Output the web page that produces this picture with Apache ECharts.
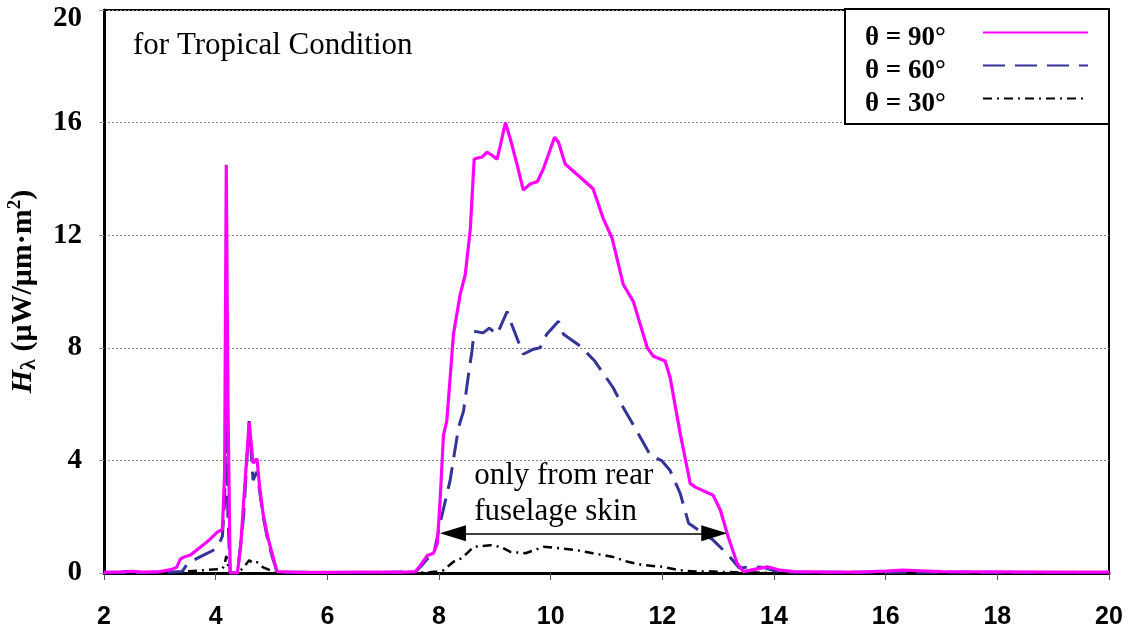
<!DOCTYPE html>
<html>
<head>
<meta charset="utf-8">
<script src="https://cdn.jsdelivr.net/npm/echarts@6/dist/echarts.min.js"></script>
<style>
html,body{margin:0;padding:0;background:#fff;}
#chart{width:1131px;height:634px;}
</style>
</head>
<body>
<div id="chart"></div>
<script>
// ---- data (wavelength in µm, spectral irradiance) ----
const seriesNames = ['θ = 90°', 'θ = 60°', 'θ = 30°'];
const wl90 = [2.0, 2.3, 2.5, 2.7, 3.0, 3.2, 3.3, 3.37, 3.45, 3.55, 3.65, 3.78, 3.9, 4.03, 4.12, 4.16, 4.19, 4.22, 4.26, 4.39, 4.45, 4.5, 4.6, 4.67, 4.74, 4.79, 4.85, 4.93, 5.01, 5.1, 5.5, 6.0, 6.5, 7.0, 7.4, 7.58, 7.67, 7.79, 7.9, 7.97, 8.02, 8.08, 8.14, 8.26, 8.38, 8.47, 8.56, 8.63, 8.7, 8.77, 8.86, 8.95, 9.04, 9.1, 9.19, 9.28, 9.4, 9.51, 9.64, 9.76, 9.87, 10.07, 10.14, 10.26, 10.53, 10.76, 10.94, 11.1, 11.3, 11.48, 11.73, 11.84, 12.05, 12.14, 12.32, 12.5, 12.59, 12.91, 13.04, 13.18, 13.34, 13.45, 13.58, 13.88, 14.11, 14.35, 15.0, 15.5, 16.0, 16.3, 16.6, 17.0, 18.0, 19.0, 20.0];
const h90 = [0.02, 0.04, 0.06, 0.03, 0.05, 0.12, 0.2, 0.5, 0.58, 0.64, 0.8, 1.0, 1.2, 1.45, 1.55, 3.5, 14.5, 6.0, 0, 0, 1.0, 2.5, 5.35, 3.9, 4.06, 3.0, 2.1, 1.3, 0.7, 0.05, 0.02, 0.02, 0.03, 0.03, 0.03, 0.05, 0.28, 0.62, 0.7, 1.05, 2.58, 4.9, 5.4, 8.5, 9.9, 10.6, 12.2, 14.7, 14.75, 14.77, 14.95, 14.84, 14.7, 15.2, 16.0, 15.4, 14.5, 13.6, 13.83, 13.9, 14.36, 15.48, 15.3, 14.53, 14.06, 13.65, 12.6, 11.9, 10.25, 9.65, 8.0, 7.7, 7.53, 6.94, 4.95, 3.18, 3.05, 2.76, 2.23, 1.28, 0.35, 0.05, 0.1, 0.22, 0.1, 0.05, 0.03, 0.03, 0.07, 0.1, 0.08, 0.05, 0.04, 0.03, 0.03];
const wl60 = [2.0, 3.0, 3.4, 3.5, 3.65, 3.8, 3.95, 4.05, 4.12, 4.16, 4.19, 4.22, 4.26, 4.39, 4.5, 4.6, 4.67, 4.74, 4.85, 4.93, 5.01, 5.1, 6.0, 7.0, 7.58, 7.67, 7.79, 7.9, 8.02, 8.2, 8.35, 8.44, 8.53, 8.59, 8.63, 8.79, 8.9, 9.04, 9.22, 9.28, 9.37, 9.51, 9.69, 9.81, 9.93, 10.14, 10.23, 10.53, 10.79, 11.12, 11.3, 11.57, 11.79, 11.99, 12.14, 12.32, 12.47, 12.7, 12.91, 13.18, 13.38, 13.5, 13.8, 14.05, 14.3, 16.0, 18.0, 20.0];
const h60 = [0.01, 0.02, 0.05, 0.35, 0.5, 0.65, 0.8, 1.0, 1.3, 2.5, 5.9, 2.0, 0, 0, 2.0, 5.4, 3.3, 3.6, 2.0, 1.2, 0.6, 0.03, 0.02, 0.02, 0.04, 0.22, 0.5, 0.6, 1.77, 3.3, 5.17, 5.76, 7.07, 7.88, 8.59, 8.53, 8.7, 8.48, 9.29, 8.94, 8.48, 7.77, 7.95, 8.0, 8.48, 8.94, 8.48, 8.06, 7.53, 6.58, 5.88, 4.95, 4.17, 3.99, 3.64, 2.83, 1.77, 1.45, 1.17, 0.64, 0.18, 0.2, 0.2, 0.06, 0.03, 0.03, 0.02, 0.02];
const wl30 = [2.0, 3.3, 3.5, 3.8, 4.0, 4.12, 4.16, 4.19, 4.22, 4.26, 4.4, 4.5, 4.6, 4.67, 4.74, 4.85, 5.0, 5.1, 6.0, 7.0, 7.8, 7.95, 8.08, 8.26, 8.41, 8.62, 8.92, 9.1, 9.28, 9.55, 9.87, 10.17, 10.47, 10.76, 11.1, 11.38, 11.66, 12.0, 12.3, 12.6, 12.9, 13.4, 14.0, 16.0, 18.0, 20.0];
const h30 = [0.0, 0.03, 0.06, 0.1, 0.13, 0.15, 0.3, 0.6, 0.3, 0, 0, 0.2, 0.45, 0.35, 0.38, 0.2, 0.08, 0, 0, 0, 0.02, 0.05, 0.1, 0.4, 0.53, 0.93, 0.99, 0.93, 0.75, 0.7, 0.93, 0.88, 0.81, 0.7, 0.58, 0.4, 0.28, 0.22, 0.1, 0.05, 0.05, 0.02, 0.01, 0.0, 0.0, 0.0];
// annotation: double arrow (centres of the two arrow heads) and text anchor (data coords)
const arrowX = [8.25, 12.93];
const arrowY = 1.41;
const noteText = 'only from rear\nfuselage skin';
const noteAt = [8.63, 2.8];
const titleText = 'for Tropical Condition';

const pairs = (xs, ys) => xs.map((x, i) => [x, ys[i]]);

const chart = echarts.init(document.getElementById('chart'), null, {renderer: 'canvas'});
const serif = '"Liberation Serif", "Times New Roman", serif';
const sans = '"Liberation Sans", Arial, sans-serif';

chart.setOption({
  animation: false,
  backgroundColor: '#fff',
  title: {
    text: titleText,
    left: 128, top: 25,
    textStyle: {fontFamily: serif, fontWeight: 'normal', fontSize: 31, color: '#000'}
  },
  legend: {
    orient: 'vertical',
    left: 845, top: 9,
    align: 'right',
    itemWidth: 105, itemHeight: 14, itemGap: -6,
    padding: [4, 20, 6, 20],
    backgroundColor: '#fff',
    borderColor: '#000', borderWidth: 2,
    itemStyle: {color: 'rgba(0,0,0,0)', borderWidth: 0, opacity: 0},
    formatter: '{a|{name}}',
    textStyle: {
      rich: {
        a: {fontFamily: serif, fontWeight: 'bold', fontSize: 27, color: '#000', width: 113, align: 'left', lineHeight: 22, padding: [12, 0, 0, 0]}
      }
    },
    data: seriesNames
  },
  grid: {
    left: 104, right: 22, top: 10, bottom: 61,
    outerBoundsMode: 'none',
    show: true, borderColor: '#000', borderWidth: 2, backgroundColor: 'transparent'
  },
  xAxis: {
    type: 'value', min: 2, max: 20, interval: 2,
    axisLine: {lineStyle: {color: '#000', width: 3}},
    axisTick: {length: 7, lineStyle: {color: '#555', width: 1}},
    axisLabel: {fontFamily: sans, fontWeight: 'bold', fontSize: 25, color: '#000', margin: 32},
    splitLine: {show: false}
  },
  yAxis: {
    type: 'value', min: 0, max: 20, interval: 4,
    axisLine: {show: true, lineStyle: {color: '#000', width: 3}},
    axisTick: {show: true, length: 5, lineStyle: {color: '#999', width: 1}},
    axisLabel: {
      margin: 22,
      formatter: v => (v === 20 ? '{t|' + v + '}' : '{n|' + v + '}'),
      rich: {
        n: {fontFamily: serif, fontWeight: 'bold', fontSize: 29, color: '#000'},
        t: {fontFamily: serif, fontWeight: 'bold', fontSize: 29, color: '#000', padding: [18, 0, 0, 0]}
      }
    },
    splitLine: {show: true, lineStyle: {color: '#888', width: 1, type: [2, 2]}},
    name: '{h|H}{s|λ}{t| (μW/μm·m}{p|2}{t|)}',
    nameLocation: 'middle',
    nameGap: 64,
    nameTextStyle: {
      rich: {
        h: {fontFamily: serif, fontWeight: 'bold', fontStyle: 'italic', fontSize: 30, color: '#000', lineHeight: 34},
        s: {fontFamily: serif, fontWeight: 'bold', fontSize: 22, color: '#000', verticalAlign: 'bottom', lineHeight: 34},
        t: {fontFamily: serif, fontWeight: 'bold', fontSize: 30, color: '#000', lineHeight: 34},
        p: {fontFamily: serif, fontWeight: 'bold', fontSize: 19, color: '#000', verticalAlign: 'top', lineHeight: 34}
      }
    }
  },
  series: [
    {
      name: seriesNames[2], type: 'line', z: 2,
      data: pairs(wl30, h30), symbol: 'none', showSymbol: false,
      lineStyle: {color: '#000', width: 2.5, type: [9, 5, 2, 5]},
      itemStyle: {color: '#000'}
    },
    {
      name: seriesNames[1], type: 'line', z: 3,
      data: pairs(wl60, h60), symbol: 'none', showSymbol: false,
      lineStyle: {color: '#333399', width: 3, type: [22, 10]},
      itemStyle: {color: '#000080'}
    },
    {
      name: seriesNames[0], type: 'line', z: 4,
      data: pairs(wl90, h90), symbol: 'none', showSymbol: false,
      lineStyle: {color: '#ff00ff', width: 3.2},
      itemStyle: {color: '#ff00ff'}
    },
    {
      name: 'annotation', type: 'line', z: 5,
      data: [], symbol: 'none',
      markLine: {
        silent: true,
        symbol: ['triangle', 'triangle'],
        symbolSize: [16, 26],
        lineStyle: {color: '#000', width: 1.5, type: 'solid'},
        itemStyle: {color: '#000'},
        label: {show: false},
        data: [[{coord: [arrowX[0], arrowY]}, {coord: [arrowX[1], arrowY]}]]
      },
      markPoint: {
        silent: true,
        symbol: 'circle', symbolSize: 0,
        label: {
          show: true, position: 'inside', align: 'left', verticalAlign: 'middle',
          formatter: noteText,
          fontFamily: serif, fontSize: 31, lineHeight: 36, color: '#000'
        },
        data: [{coord: noteAt}]
      }
    }
  ]
});
</script>
</body>
</html>
